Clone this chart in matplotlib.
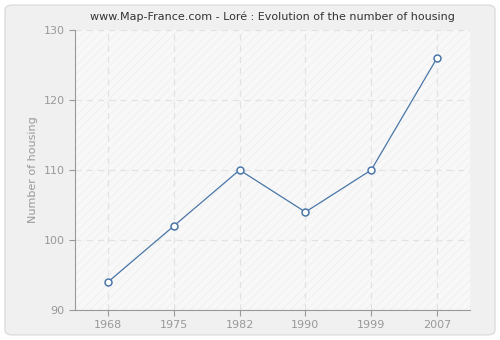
import matplotlib.pyplot as plt
from matplotlib.patches import FancyBboxPatch

years = ["1968", "1975", "1982", "1990", "1999", "2007"]
housing = [94, 102, 110, 104, 110, 126]
yticks = [90, 100, 110, 120, 130]

plt.rcParams["hatch.linewidth"] = 0.5
plt.rcParams["hatch.color"] = "#eeeeee"

fig = plt.figure(figsize=(5, 3.4), dpi=100)
fig.patch.set_facecolor("white")

# rounded grey panel behind everything
panel = FancyBboxPatch((0.01, 0.015), 0.98, 0.97, boxstyle="round,pad=0,rounding_size=0.015",
                       transform=fig.transFigure, facecolor="#f0f0f0", edgecolor="#dddddd",
                       linewidth=1, zorder=-10)
fig.patches.append(panel)

ax = fig.add_axes([0.15, 0.088, 0.79, 0.824])
ax.set_zorder(1)
ax.set_facecolor("#f8f8f8")
ax.patch.set_hatch("////")
ax.patch.set_edgecolor("#eeeeee")

x = list(range(len(years)))
ax.plot(x, housing, color="#4a76a8", linewidth=0.9, marker="o", markersize=5,
        markerfacecolor="white", markeredgecolor="#4a76a8", markeredgewidth=1.1, zorder=3)

ax.set_xlim(-0.5, 5.5)
ax.set_ylim(90, 130)
ax.set_xticks(x)
ax.set_xticklabels(years)
ax.set_yticks(yticks)

ax.grid(True, color="#e2e2e2", linestyle=(0, (5, 4)), linewidth=0.9)
ax.set_axisbelow(True)

for s in ["top", "right"]:
    ax.spines[s].set_visible(False)
for s in ["left", "bottom"]:
    ax.spines[s].set_color("#999999")

ax.tick_params(colors="#999999", labelsize=8, length=4, width=0.8, labelcolor="#999999")
ax.set_ylabel("Number of housing", color="#999999", fontsize=8)
ax.set_title("www.Map-France.com - Loré : Evolution of the number of housing",
             fontsize=8, color="#333333", pad=7)

plt.savefig("out.png", dpi=100, facecolor=fig.get_facecolor())
